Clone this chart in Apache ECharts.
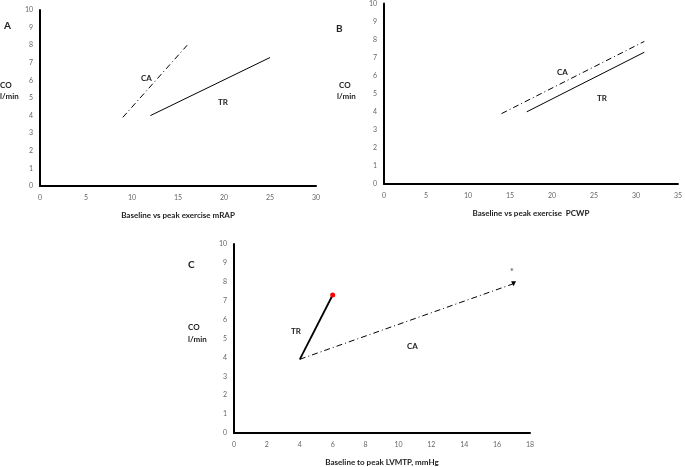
<!DOCTYPE html>
<html>
<head>
<meta charset="utf-8">
<script src="https://cdn.jsdelivr.net/npm/echarts@6/dist/echarts.min.js"></script>
<style>
  html, body { margin: 0; padding: 0; background: #fff; }
  #chart { width: 685px; height: 467px; }
</style>
</head>
<body>
<div id="chart"></div>
<script>
// panel A: CO vs mRAP
var caA = [[9, 3.9], [16, 8]];
var trA = [[12, 4], [25, 7.3]];
// panel B: CO vs PCWP
var caB = [[14, 3.9], [31, 7.9]];
var trB = [[17, 4], [31, 7.3]];
// panel C: CO vs LVMTP
var caC = [[4, 3.9], [17, 7.9]];
var trC = [[4, 3.9], [6, 7.3]];

var xMax = [30, 35, 18];
var xStep = [5, 5, 2];
var xNames = ["Baseline vs peak exercise mRAP", "Baseline vs peak exercise  PCWP", "Baseline to peak LVMTP, mmHg"];

var FONT = "Lato, 'Open Sans', sans-serif";
var dashDot = [6, 3, 1, 3];

function xAxisOf(i) {
  return {
    gridIndex: i, type: "value", min: 0, max: xMax[i], interval: xStep[i],
    axisLine: { lineStyle: { color: "#000", width: 2 } },
    axisTick: { show: false }, splitLine: { show: false },
    axisLabel: { color: "#666", fontSize: 7, margin: 8, fontFamily: FONT },
    name: xNames[i], nameLocation: "middle", nameGap: 25,
    nameTextStyle: { color: "#222", fontSize: 8, fontWeight: "bold", fontFamily: FONT }
  };
}
function yAxisOf(i) {
  return {
    gridIndex: i, type: "value", min: 0, max: 10, interval: 1,
    axisLine: { show: true, lineStyle: { color: "#000", width: 2 } },
    axisTick: { show: false }, splitLine: { show: false },
    axisLabel: { color: "#666", fontSize: 7, margin: 7, fontFamily: FONT }
  };
}
function line(i, data, dashed, width) {
  return {
    type: "line", xAxisIndex: i, yAxisIndex: i, data: data,
    symbol: "none", silent: true,
    lineStyle: { color: "#000", width: width || 1, type: dashed ? dashDot : "solid" }
  };
}
function txt(x, y, s, size) {
  return { type: "text", left: x, top: y,
    style: { text: s, fontSize: size || 8, fontWeight: "bold", fill: "#222", fontFamily: FONT } };
}

var chart = echarts.init(document.getElementById("chart"));
chart.setOption({
  animation: false,
  grid: [
    { left: 40, top: 10, width: 276, height: 176 },
    { left: 384, top: 3, width: 297, height: 181 },
    { left: 234, top: 244, width: 296, height: 191 }
  ],
  xAxis: [xAxisOf(0), xAxisOf(1), xAxisOf(2)],
  yAxis: [yAxisOf(0), yAxisOf(1), yAxisOf(2)],
  series: [
    line(0, caA, true), line(0, trA, false),
    line(1, caB, true), line(1, trB, false),
    {
      type: "line", xAxisIndex: 2, yAxisIndex: 2, silent: true,
      data: [{ value: caC[0], symbol: "none" }, { value: caC[1], symbol: "triangle", symbolSize: 5, symbolRotate: 180 }],
      itemStyle: { color: "#000" },
      lineStyle: { color: "#000", width: 1, type: dashDot }
    },
    {
      type: "line", xAxisIndex: 2, yAxisIndex: 2, silent: true,
      data: [{ value: trC[0], symbol: "none" }, { value: trC[1], symbol: "circle", symbolSize: 5 }],
      itemStyle: { color: "#ff0000" },
      lineStyle: { color: "#000", width: 1.8 }
    }
  ],
  graphic: [
    txt(4, 21, "A", 10), txt(336, 24, "B", 10), txt(188, 260, "C", 10),
    txt(0, 81, "CO"), txt(0, 92, "l/min"),
    txt(339, 81, "CO"), txt(337, 92, "l/min"),
    txt(188, 323, "CO"), txt(188, 335, "l/min"),
    txt(141, 74, "CA"), txt(218, 98, "TR"),
    txt(557, 68, "CA"), txt(597, 94, "TR"),
    txt(291, 327, "TR"), txt(407, 342, "CA"),
    { type: "text", left: 510, top: 268, style: { text: "*", fontSize: 9, fill: "#444", fontFamily: FONT } }
  ]
});
</script>
</body>
</html>
